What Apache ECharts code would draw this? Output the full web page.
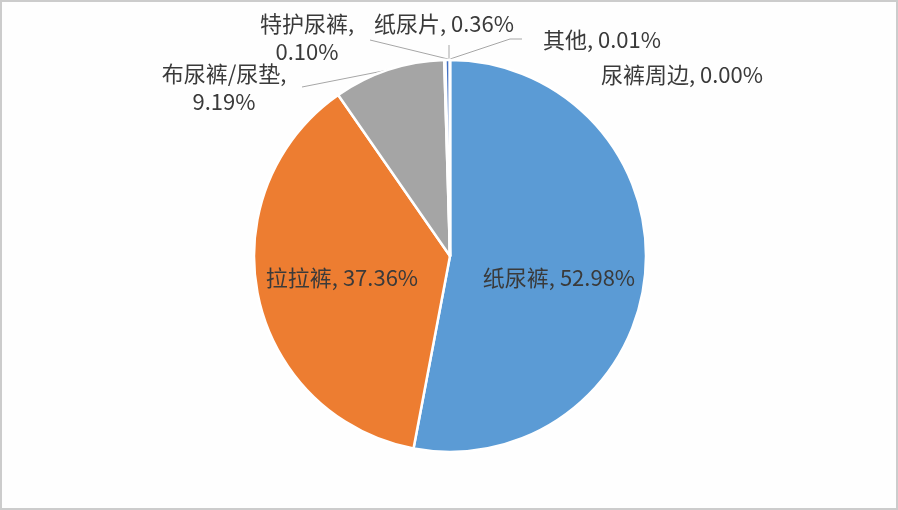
<!DOCTYPE html>
<html>
<head>
<meta charset="utf-8">
<script src="https://cdn.jsdelivr.net/npm/echarts@6/dist/echarts.min.js"></script>
<style>
html,body{margin:0;padding:0;background:#fff;}
#main{width:898px;height:510px;box-sizing:border-box;border:2px solid #cccccc;background:#fefefe;}
</style>
</head>
<body>
<div id="main"></div>
<script>
// Data
const categories = ['纸尿裤', '拉拉裤', '布尿裤/尿垫', '特护尿裤', '纸尿片', '其他', '尿裤周边'];
const shares = [52.98, 37.36, 9.19, 0.10, 0.36, 0.01, 0.00];
const colors = ['#5B9BD5', '#ED7D31', '#A5A5A5', '#FFC000', '#4472C4', '#70AD47', '#264478'];

// Label layout (positions are styling, not data)
const wrapLabel = [false, false, true, true, false, false, false];
const insideLabel = [true, true, false, false, false, false, false];
const labelPlace = [
  {x: 557, y: 276},
  {x: 340, y: 276},
  {x: 222, y: 86},
  {x: 305, y: 36},
  {x: 442, y: 22},
  {x: 600, y: 38},
  {x: 680, y: 73}
];
const leader = [
  null,
  null,
  [[386, 68], [300, 85]],
  [[446, 57], [368, 38]],
  [[447, 57], [447, 43]],
  [[448, 57], [508, 37], [520, 37]],
  null
];

const chart = echarts.init(document.getElementById('main'));
const data = categories.map((name, i) => ({
  name: name,
  value: shares[i],
  itemStyle: {color: colors[i]},
  label: {position: insideLabel[i] ? 'inside' : 'outside'},
  labelLine: {show: !!leader[i]}
}));

chart.setOption({
  animation: false,
  series: [{
    type: 'pie',
    center: [448, 254],
    radius: 196,
    startAngle: 90,
    clockwise: true,
    avoidLabelOverlap: false,
    data: data,
    itemStyle: {borderColor: '#ffffff', borderWidth: 2.5},
    label: {
      show: true,
      fontFamily: 'Noto Sans CJK SC',
      fontSize: 22,
      color: '#3a3a3a',
      lineHeight: 28,
      formatter: function (p) {
        const i = p.dataIndex;
        return categories[i] + ',' + (wrapLabel[i] ? '\n' : ' ') + shares[i].toFixed(2) + '%';
      }
    },
    labelLine: {
      lineStyle: {color: '#a6a6a6', width: 1},
      length: 10,
      length2: 10
    },
    emphasis: {disabled: true},
    labelLayout: function (params) {
      const i = params.dataIndex;
      const res = {
        x: labelPlace[i].x,
        y: labelPlace[i].y,
        align: 'center',
        verticalAlign: 'middle'
      };
      if (leader[i]) res.labelLinePoints = leader[i];
      return res;
    }
  }]
});
</script>
</body>
</html>
